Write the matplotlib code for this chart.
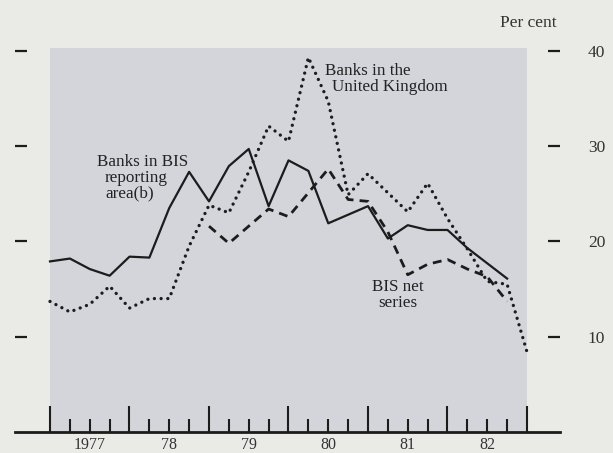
import matplotlib.pyplot as plt
from matplotlib.patches import Rectangle

# quarterly observations, 1977 Q1 onwards (quarter index 0 = start of 1977)
years = ['1977', '78', '79', '80', '81', '82']
bis_area = [17.9, 18.2, 17.1, 16.4, 18.4, 18.3, 23.5, 27.3, 24.2, 27.9, 29.7, 23.7,
            28.5, 27.4, 21.9, 22.8, 23.7, 20.3, 21.7, 21.2, 21.2, 19.3, 17.7, 16.1]
uk_banks = [13.7, 12.6, 13.4, 15.3, 13.0, 14.0, 14.0, 19.5, 23.8, 23.0, 27.3, 32.1,
            30.5, 39.3, 34.7, 24.9, 27.1, 25.1, 23.1, 26.1, 22.4, 19.2, 15.8, 15.5, 8.4]
bis_net_start = 8
bis_net = [21.6, 19.8, 21.6, 23.4, 22.6, 25.1, 27.6, 24.4, 24.2, 21.0, 16.5, 17.6,
           18.1, 17.1, 16.3, 13.7]
yticks = [10, 20, 30, 40]

bg = '#eaeae7'
shade = '#d3d5da'
ink = '#1c1c1c'
plt.rcParams['font.family'] = ['Liberation Serif', 'DejaVu Serif']

fig = plt.figure(figsize=(6.13, 4.53), dpi=100, facecolor=bg)
ax = fig.add_axes([15/613, 21/453, 545/613, 412/453])
ax.set_facecolor(bg)
ax.set_xlim(-35/19.875, 510/19.875)
ax.set_ylim(0, 412/9.53)

ax.add_patch(Rectangle((0, 0), 24, 40.3, facecolor=shade, edgecolor='none', zorder=0))

ax.plot(range(len(bis_area)), bis_area, color=ink, lw=1.6, zorder=3)
ax.plot(range(len(uk_banks)), uk_banks, color=ink, lw=2.4, ls=(0, (0.01, 2.0)),
        dash_capstyle='round', zorder=3)
ax.plot(range(bis_net_start, bis_net_start + len(bis_net)), bis_net, color=ink, lw=2.0,
        ls=(0, (3.2, 2.2)), zorder=3)

for s in ['left', 'right', 'top']:
    ax.spines[s].set_visible(False)
ax.spines['bottom'].set_linewidth(2)
ax.spines['bottom'].set_color(ink)

ax.set_xticks(range(0, 25, 4))
ax.set_xticks([q for q in range(25) if q % 4], minor=True)
ax.tick_params(axis='x', which='major', direction='in', length=19, width=1.5, color=ink,
               labelbottom=False)
ax.tick_params(axis='x', which='minor', direction='in', length=9.5, width=1.5, color=ink)
for k, lbl in enumerate(years):
    ax.annotate(lbl, xy=(4*k + 2, 0), xycoords=('data', 'axes fraction'), xytext=(0, -9.5),
                textcoords='offset points', ha='center', va='center', fontsize=11.5, color='#333333')

ax.set_yticks(yticks)
ax.yaxis.set_ticks_position('both')
ax.tick_params(axis='y', direction='in', length=8.6, width=1.6, color=ink,
               labelleft=False, labelright=True, pad=20, labelsize=12.5, labelcolor='#333333')

fig.text(557/613, 1 - 23/453, 'Per cent', ha='right', va='center', fontsize=12.5, color='#333333')

tkw = dict(fontsize=12.3, color='#222222', va='center', ha='left', zorder=4)
ax.text(2.37, 28.3, 'Banks in BIS', **tkw)
ax.text(2.77, 26.7, 'reporting', **tkw)
ax.text(2.77, 25.0, 'area(b)', **tkw)
ax.text(13.84, 37.9, 'Banks in the', **tkw)
ax.text(14.19, 36.2, 'United Kingdom', **tkw)
ax.text(17.5, 15.2, 'BIS net', fontsize=12.3, color='#222222', va='center', ha='center')
ax.text(17.5, 13.5, 'series', fontsize=12.3, color='#222222', va='center', ha='center')

fig.savefig('out.png', dpi=100, facecolor=bg)
